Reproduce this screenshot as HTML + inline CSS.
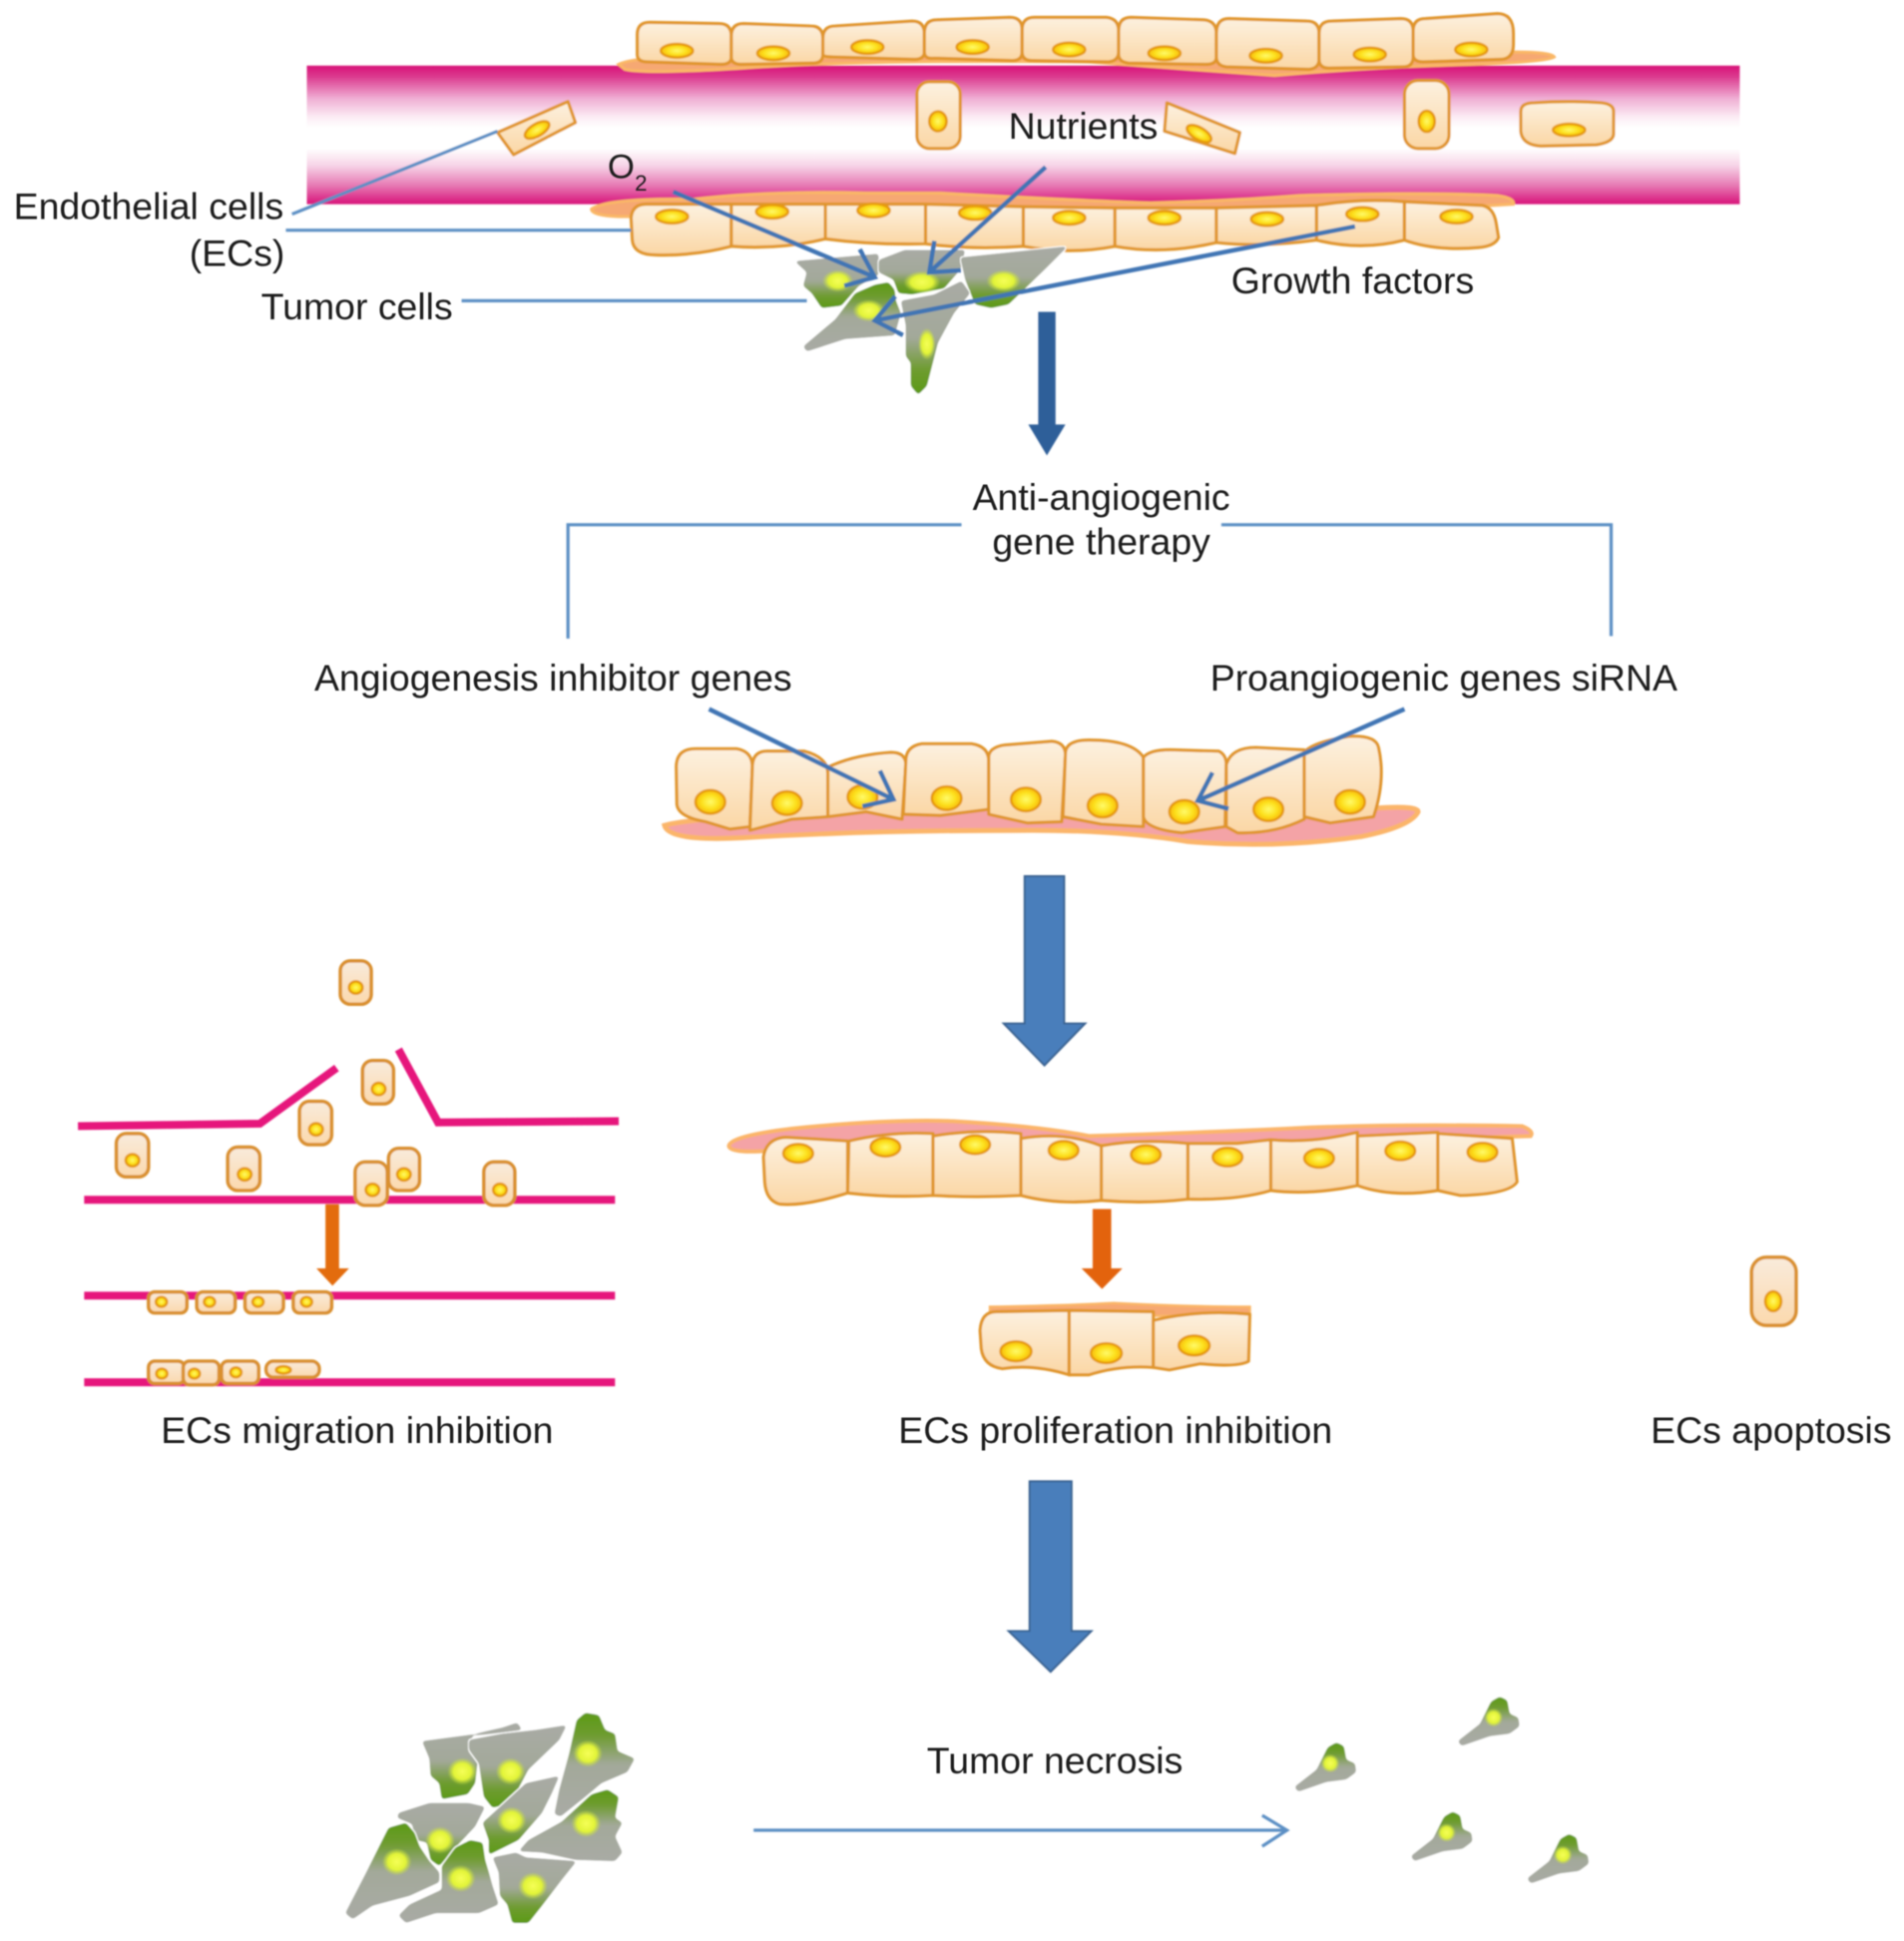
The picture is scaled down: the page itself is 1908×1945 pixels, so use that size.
<!DOCTYPE html>
<html><head><meta charset="utf-8"><style>
html,body{margin:0;padding:0;background:#fff;width:1908px;height:1945px;overflow:hidden}
svg{display:block}
text{font-family:"Liberation Sans",sans-serif;font-size:30.2px;fill:#1c1c1c}
.c{fill:url(#cg);stroke:#e0952c;stroke-width:2.5;stroke-linejoin:round}
.s{fill:url(#cs);stroke:#d98f2e;stroke-width:2.8}
.m{fill:#f6a873;stroke:#fab766;stroke-width:2.5}
.n{fill:url(#ng);stroke:#e59a10;stroke-width:2}
.l{fill:none;stroke:#5b8fc4;stroke-width:2.6}
.a{fill:none;stroke:#3f74b4;stroke-width:3.6}
.p{fill:none;stroke:#e6127c;stroke-width:6.4}
.tu{fill:url(#tu);filter:url(#goo)}
.td{fill:url(#td);filter:url(#goo)}
.g{fill:url(#gl)}
</style></head><body>
<svg xmlns="http://www.w3.org/2000/svg" width="1908" height="1945" viewBox="0 0 1538.7 1568.5">
<defs>
<linearGradient id="v" x1="0" y1="0" x2="0" y2="1">
<stop offset="0" stop-color="#d8137a"/><stop offset=".08" stop-color="#dc3a8f"/><stop offset=".24" stop-color="#f0b0d5"/><stop offset=".38" stop-color="#fdf0f7"/><stop offset=".45" stop-color="#fff"/><stop offset=".6" stop-color="#fff"/><stop offset=".72" stop-color="#f7d5e8"/><stop offset=".86" stop-color="#e77db6"/><stop offset="1" stop-color="#d8137a"/>
</linearGradient>
<linearGradient id="cg" x1="0" y1="0" x2="0" y2="1"><stop offset="0" stop-color="#fdf1e0"/><stop offset="1" stop-color="#fbd7a5"/></linearGradient>
<linearGradient id="cs" x1="0" y1="0" x2="0" y2="1"><stop offset="0" stop-color="#f9ebdc"/><stop offset="1" stop-color="#fbd9ad"/></linearGradient>
<radialGradient id="ng"><stop offset="0" stop-color="#fffb6a"/><stop offset=".6" stop-color="#fde01c"/><stop offset="1" stop-color="#f8b90e"/></radialGradient>
<linearGradient id="tu" x1="0" y1="0" x2="0" y2="1"><stop offset="0" stop-color="#5c9a16"/><stop offset=".22" stop-color="#6e9c30"/><stop offset=".5" stop-color="#a3a99a"/><stop offset="1" stop-color="#a9aba5"/></linearGradient>
<linearGradient id="td" x1="0" y1="0" x2="0" y2="1"><stop offset="0" stop-color="#a9aba5"/><stop offset=".5" stop-color="#a3a99a"/><stop offset=".78" stop-color="#6e9c30"/><stop offset="1" stop-color="#5c9a16"/></linearGradient>
<radialGradient id="gl"><stop offset="0" stop-color="#f6ff58"/><stop offset=".6" stop-color="#e2f438"/><stop offset="1" stop-color="#c8e43a" stop-opacity="0"/></radialGradient>
<marker id="h" markerUnits="userSpaceOnUse" markerWidth="34" markerHeight="40" refX="26" refY="20" orient="auto"><path d="M6,4 L26,20 L6,36" fill="none" stroke="#3f74b4" stroke-width="3.6"/></marker>
<filter id="b" x="-2%" y="-2%" width="104%" height="104%"><feGaussianBlur stdDeviation=".7"/></filter>
<filter id="bt" x="-5%" y="-20%" width="110%" height="140%"><feGaussianBlur stdDeviation=".35"/></filter>
<filter id="goo" x="-20%" y="-20%" width="140%" height="140%" color-interpolation-filters="sRGB">
<feGaussianBlur in="SourceGraphic" stdDeviation="1.3" result="bl"/>
<feColorMatrix in="bl" type="matrix" values="1 0 0 0 0 0 1 0 0 0 0 0 1 0 0 0 0 0 10 -4.5" result="gg"/>
<feMorphology in="gg" operator="dilate" radius="1" result="di"/>
<feFlood flood-color="#fff"/>
<feComposite in2="di" operator="in" result="wh"/>
<feMerge><feMergeNode in="wh"/><feMergeNode in="gg"/></feMerge>
</filter>
<g id="sm">
<path class="tu" d="M0,0 L6,3 L8,14 L15,17 L16,24 L8,30 L-8,32 L-31,40 L-34,36 L-16,22 L-7,4Z"/>
<ellipse class="g" cx="-5" cy="17" rx="7.5" ry="7.5"/>
</g>
</defs>
<g filter="url(#b)">
<rect x="248" y="53" width="1158" height="112" fill="url(#v)"/>

<!-- top row -->
<path class="m" d="M500,52 Q515,44 600,47 Q700,46 900,44 L1225,42 Q1254,42 1256,46 Q1250,50 1190,52 Q1110,54 1030,61 Q960,56 880,50 Q700,48 600,55 Q520,60 505,56Z"/>
<path class="c" d="M515,28 Q515,18 525,18 L581,19 Q591,19 591,29 L591,46 Q591,52 583,52 L523,50 Q515,50 515,44Z"/>
<path class="c" d="M591,29 Q591,19 601,19 L655,21 Q665,21 665,31 L665,44 Q665,51 657,51 L599,52 Q591,52 591,46Z"/>
<path class="c" d="M665,31 Q665,21 675,21 L737,17 Q747,17 747,27 L747,42 Q747,48 739,48 L673,46 Q665,46 665,44Z"/>
<path class="c" d="M747,27 Q747,16 757,16 L816,14 Q826,14 826,24 L826,42 Q826,49 818,49 L755,47 Q747,48 747,42Z"/>
<path class="c" d="M826,24 Q826,14 836,14 L894,14 Q904,15 904,25 L904,42 Q904,49 896,50 L834,49 Q826,49 826,42Z"/>
<path class="c" d="M904,25 Q904,14 914,14 L973,16 Q983,17 983,27 L983,46 Q983,52 975,52 L912,51 Q904,50 904,44Z"/>
<path class="c" d="M983,27 Q983,15 993,15 L1056,17 Q1066,17 1066,27 L1066,48 Q1066,55 1058,56 L991,54 Q983,53 983,46Z"/>
<path class="c" d="M1066,27 Q1066,17 1076,17 L1132,15 Q1142,15 1142,25 L1142,46 Q1142,54 1134,54 L1074,55 Q1066,55 1066,48Z"/>
<path class="c" d="M1142,25 Q1142,15 1152,15 L1210,11 Q1223,11 1223,27 L1223,36 Q1223,48 1212,48 L1150,50 Q1142,50 1142,44Z"/>
<ellipse class="n" cx="547" cy="41" rx="13" ry="5.5"/><ellipse class="n" cx="625" cy="43" rx="13" ry="5.5"/><ellipse class="n" cx="701" cy="38" rx="13" ry="5.5"/><ellipse class="n" cx="786" cy="38" rx="13" ry="5.5"/><ellipse class="n" cx="864" cy="40" rx="13" ry="5.5"/><ellipse class="n" cx="941" cy="43" rx="13" ry="5.5"/><ellipse class="n" cx="1023" cy="45" rx="13" ry="5.5"/><ellipse class="n" cx="1107" cy="44" rx="13" ry="5.5"/><ellipse class="n" cx="1189" cy="40" rx="13" ry="5.5"/>

<!-- floating in vessel -->
<path class="c" d="M402,107 L459,82 L465,99 L415,125Z"/><ellipse class="n" cx="434" cy="105" rx="11" ry="5" transform="rotate(-30 434 105)"/>
<rect class="c" x="741" y="66" width="35" height="54" rx="10"/><ellipse class="n" cx="758" cy="98" rx="7" ry="8"/>
<path class="c" d="M943,83 L1002,107 L998,124 L941,106Z"/><ellipse class="n" cx="969" cy="108" rx="11" ry="5" transform="rotate(30 969 108)"/>
<rect class="c" x="1135" y="65" width="36" height="55" rx="11"/><ellipse class="n" cx="1153" cy="98" rx="6.5" ry="8.5"/>
<path class="c" d="M1229,90 Q1229,83 1240,83 Q1267,81 1294,83 Q1304,84 1304,90 L1304,108 Q1304,115 1290,117 L1245,118 Q1230,117 1229,106Z"/><ellipse class="n" cx="1268" cy="105" rx="13" ry="5"/>

<!-- lower row -->
<path class="m" d="M478,169 Q490,160 560,161 Q620,154 700,156 L760,156 Q870,162 930,164 Q1000,162 1050,158 Q1150,155 1210,158 Q1224,160 1223,165 L1100,172 L500,175 Q478,174 478,169Z"/>
<path class="c" d="M510,176 Q511,165 522,165 L591,165 L591,199 Q560,207 530,206 Q512,206 511,194Z"/>
<path class="c" d="M591,165 L667,165 L667,193 Q630,202 591,199Z"/>
<path class="c" d="M667,165 L748,165 L748,197 Q705,198 667,193Z"/>
<path class="c" d="M748,165 L827,167 L827,199 Q785,202 748,197Z"/>
<path class="c" d="M827,167 L901,168 L901,199 Q865,206 827,199Z"/>
<path class="c" d="M901,168 L983,168 L983,196 Q940,206 901,199Z"/>
<path class="c" d="M983,168 L1064,166 L1064,194 Q1020,200 983,196Z"/>
<path class="c" d="M1064,166 Q1100,160 1135,163 L1135,194 Q1100,203 1064,194Z"/>
<path class="c" d="M1135,163 L1198,166 Q1207,168 1209,180 L1211,192 Q1208,199 1195,200 Q1160,203 1135,194Z"/>
<ellipse class="n" cx="543" cy="175" rx="13" ry="5.5"/><ellipse class="n" cx="624" cy="171" rx="13" ry="5.5"/><ellipse class="n" cx="706" cy="170" rx="13" ry="5.5"/><ellipse class="n" cx="788" cy="172" rx="13" ry="5.5"/><ellipse class="n" cx="864" cy="176" rx="13" ry="5.5"/><ellipse class="n" cx="941" cy="176" rx="13" ry="5.5"/><ellipse class="n" cx="1024" cy="177" rx="13" ry="5.5"/><ellipse class="n" cx="1101" cy="173" rx="13" ry="5.5"/><ellipse class="n" cx="1177" cy="175" rx="13" ry="5.5"/>

<!-- tumor top -->
<path class="td" d="M642,211 L710,205 L710,222 L694,231 L680,247 L664,249 L656,237 L649,231 L652,220Z"/>
<path class="td" d="M710,210 L731,202 L780,202 L776,218 L763,233 L737,238 L726,237 L722,226 L710,220Z"/>
<path class="td" d="M776,208 L863,199 L844,218 L815,246 L801,249 L788,246 L780,226Z"/>
<path class="tu" d="M707,230 L718,228 L723,234 L724,243 L728,253 L723,271 L683,274 L652,284 L649,280 L675,258 L691,237Z"/>
<path class="td" d="M728,243 L755,238 L777,227 L784,237 L771,253 L758,277 L749,312 L742,319 L736,312 L736,293 L732,288 L732,263Z"/>
<ellipse class="g" cx="677" cy="227" rx="12.5" ry="9"/><ellipse class="g" cx="745" cy="228" rx="15" ry="9"/><ellipse class="g" cx="811" cy="227" rx="14" ry="9"/><ellipse class="g" cx="702" cy="251" rx="13" ry="9"/><ellipse class="g" cx="749" cy="278" rx="7" ry="13"/>

<!-- arrows over top -->
<line class="l" x1="236" y1="173" x2="402" y2="106"/>
<line class="l" x1="231" y1="186" x2="510" y2="186"/>
<line class="l" x1="373" y1="243" x2="652" y2="243"/>
<line class="a" x1="544" y1="155" x2="707" y2="224" marker-end="url(#h)"/>
<line class="a" x1="845" y1="135" x2="751" y2="220" marker-end="url(#h)"/>
<line class="a" x1="1095" y1="183" x2="707" y2="259" marker-end="url(#h)"/>

<path d="M839,252 H853 V343 H861 L846,368 L831,343 H839Z" fill="#2f5f99"/>

<path class="l" d="M459,516 V424 H777"/>
<path class="l" d="M987,424 H1302 V514"/>

<!-- middle row -->
<path d="M537,667 Q560,660 700,655 Q900,650 1100,654 Q1146,650 1146,656 Q1140,668 1100,676 Q1030,686 960,680 Q900,670 820,671 Q700,671 600,677 Q540,680 537,667Z" fill="#f4a3a6" stroke="#fbb56a" stroke-width="4"/>
<path class="c" d="M546.5,620 Q546.5,605 562,605 L595,605 Q608,607 608,620 L606,668 L590,670 L570,664 Q548,660 547,650Z"/>
<path class="c" d="M608,620 Q608,607 620,607 L650,607 Q669,612 669,625 L669,660 L640,662 L606,671Z"/>
<path class="c" d="M669,620 Q690,610 720,608 Q732,608 732,618 L729,662 L700,656 L669,660Z"/>
<path class="c" d="M732,615 Q732,603 745,601 L785,601 Q799,603 799,615 L799,654 L760,659 L730,658Z"/>
<path class="c" d="M799,612 Q799,604 812,602 L850,599 Q861,600 861,610 L858,664 L830,665 L799,658Z"/>
<path class="c" d="M861,608 Q862,598 880,598 Q915,598 924,612 L924,668 L890,666 L859,660Z"/>
<path class="c" d="M924,612 Q930,605 950,606 L985,607 Q991,610 991,618 L990,668 L955,673 Q926,670 924,660Z"/>
<path class="c" d="M991,618 Q995,604 1015,604 L1054,606 L1054,662 Q1030,674 1000,673 L991,668Z"/>
<path class="c" d="M1054,608 Q1060,600 1090,595 Q1112,594 1114,604 Q1120,630 1110,660 L1075,665 L1054,660Z"/>
<ellipse class="n" cx="574" cy="648" rx="12" ry="9.5" stroke-width="2.4"/><ellipse class="n" cx="636" cy="649" rx="12" ry="9.5" stroke-width="2.4"/><ellipse class="n" cx="697" cy="644" rx="12" ry="9.5" stroke-width="2.4"/><ellipse class="n" cx="765" cy="645" rx="12" ry="9.5" stroke-width="2.4"/><ellipse class="n" cx="829" cy="646" rx="12" ry="9.5" stroke-width="2.4"/><ellipse class="n" cx="891" cy="651" rx="12" ry="9.5" stroke-width="2.4"/><ellipse class="n" cx="957" cy="656" rx="12" ry="9.5" stroke-width="2.4"/><ellipse class="n" cx="1025" cy="654" rx="12" ry="9.5" stroke-width="2.4"/><ellipse class="n" cx="1091" cy="648" rx="12" ry="9.5" stroke-width="2.4"/>
<line class="a" x1="573" y1="573" x2="722" y2="646" marker-end="url(#h)"/>
<line class="a" x1="1135" y1="573" x2="968" y2="647" marker-end="url(#h)"/>

<path d="M828,708 H860 V827 H877 L844,861 L811,827 H828Z" fill="#4a7ebb" stroke="#38618f" stroke-width="1.5"/>

<!-- left panel -->
<path class="p" d="M63,910 L210,908 L272,863"/>
<path class="p" d="M322,848 L354,907 L500,906"/>
<line class="p" x1="68" y1="969.5" x2="497" y2="969.5"/>
<line class="p" x1="68" y1="1047" x2="497" y2="1047"/>
<line class="p" x1="68" y1="1117" x2="497" y2="1117"/>
<rect class="s" x="275" y="776.5" width="25" height="35" rx="8"/><ellipse class="n" cx="287.5" cy="798" rx="5.5" ry="5"/>
<rect class="s" x="293" y="857" width="25" height="35" rx="8"/><ellipse class="n" cx="306" cy="880" rx="5.5" ry="5"/>
<rect class="s" x="242" y="890" width="26" height="35" rx="8"/><ellipse class="n" cx="255.4" cy="912.6" rx="5.5" ry="5"/>
<rect class="s" x="94" y="916" width="26" height="35" rx="8"/><ellipse class="n" cx="107" cy="937.6" rx="5.5" ry="5"/>
<rect class="s" x="184" y="927" width="26" height="35" rx="8"/><ellipse class="n" cx="197.7" cy="949" rx="5.5" ry="5"/>
<rect class="s" x="287" y="939" width="26" height="35" rx="8"/><ellipse class="n" cx="301" cy="961.5" rx="5.5" ry="5"/>
<rect class="s" x="314" y="928" width="25" height="34" rx="8"/><ellipse class="n" cx="326.4" cy="949" rx="5.5" ry="5"/>
<rect class="s" x="391" y="939" width="25" height="35" rx="8"/><ellipse class="n" cx="404" cy="961.5" rx="5.5" ry="5"/>
<path d="M263,973 H274 V1025 H282 L268.7,1039 L255.7,1025 H263Z" fill="#e36c0a"/>
<rect class="s" x="120" y="1044" width="31" height="17" rx="5"/><ellipse class="n" cx="130.4" cy="1052" rx="4.5" ry="4"/>
<rect class="s" x="159" y="1044" width="31" height="17" rx="5"/><ellipse class="n" cx="169.3" cy="1052" rx="4.5" ry="4"/>
<rect class="s" x="198" y="1044" width="31" height="17" rx="5"/><ellipse class="n" cx="208.5" cy="1052" rx="4.5" ry="4"/>
<rect class="s" x="237" y="1044" width="31" height="17" rx="5"/><ellipse class="n" cx="247.7" cy="1052" rx="4.5" ry="4"/>
<rect class="s" x="120" y="1100" width="29" height="18" rx="5"/><ellipse class="n" cx="130.7" cy="1110" rx="4.5" ry="4"/>
<rect class="s" x="148" y="1100" width="29" height="19" rx="5"/><ellipse class="n" cx="157" cy="1110" rx="4.5" ry="4"/>
<rect class="s" x="179" y="1100" width="30" height="18" rx="5"/><ellipse class="n" cx="190.6" cy="1109" rx="4.5" ry="4"/>
<rect class="s" x="215" y="1100" width="43" height="13" rx="6"/><ellipse class="n" cx="229" cy="1107" rx="6" ry="3"/>

<!-- center row -->
<path d="M589,926 Q590,918 640,912 Q720,904 770,906 Q840,910 880,918 Q950,916 1040,912 Q1120,908 1230,910 Q1240,914 1237,918 L1100,922 L620,930 Q590,932 589,926Z" fill="#f4a3a6" stroke="#fbb56a" stroke-width="3.2"/>
<path class="c" d="M617,935 Q619,920 635,919 L685,922 L685,964 Q650,975 630,973 Q619,970 618,955Z"/>
<path class="c" d="M686,922 Q720,914 754,916 L754,966 Q720,968 685,964Z"/>
<path class="c" d="M754,918 Q790,912 825,916 L825,966 Q790,968 754,966Z"/>
<path class="c" d="M825,920 Q860,914 890,926 L890,970 Q855,974 825,966Z"/>
<path class="c" d="M890,926 Q920,920 960,924 L960,969 Q925,973 890,970Z"/>
<path class="c" d="M960,924 L1000,924 L1027,921 L1027,962 Q1000,970 960,969Z"/>
<path class="c" d="M1027,921 Q1060,924 1097,915 L1097,958 Q1060,966 1027,962Z"/>
<path class="c" d="M1097,918 L1162,915 L1162,962 Q1125,968 1097,958Z"/>
<path class="c" d="M1162,916 L1222,920 L1226,955 Q1220,965 1180,966 L1162,962Z"/>
<ellipse class="n" cx="645" cy="932" rx="12" ry="7.5"/><ellipse class="n" cx="715.5" cy="927" rx="12" ry="7.5"/><ellipse class="n" cx="788" cy="925" rx="12" ry="7.5"/><ellipse class="n" cx="859.5" cy="929.5" rx="12" ry="7.5"/><ellipse class="n" cx="926" cy="933" rx="12" ry="7.5"/><ellipse class="n" cx="992" cy="935" rx="12" ry="7.5"/><ellipse class="n" cx="1066" cy="936" rx="12" ry="7.5"/><ellipse class="n" cx="1131.6" cy="930" rx="12" ry="7.5"/><ellipse class="n" cx="1198" cy="931" rx="12" ry="7.5"/>
<path d="M883,977 H898 V1025 H907 L890.6,1041.6 L874,1025 H883Z" fill="#e3640f"/>

<path d="M800,1056 Q860,1055 900,1053 Q960,1056 1010,1056 L1010,1064 L800,1062Z" fill="#f6a873" stroke="#fab566" stroke-width="2"/>
<path class="c" d="M792,1075 Q793,1060 805,1060 L864,1059 L864,1111 Q835,1102 810,1106 Q795,1104 793,1090Z"/>
<path class="c" d="M864,1059 L932,1060 L932,1105 Q905,1103 880,1111 L864,1111Z"/>
<path class="c" d="M932,1067 Q970,1058 1010,1062 L1009,1100 Q1000,1105 970,1102 L945,1107 L932,1105Z"/>
<ellipse class="n" cx="821" cy="1092" rx="12.5" ry="8" stroke-width="2.4"/><ellipse class="n" cx="894" cy="1093.5" rx="12.5" ry="8" stroke-width="2.4"/><ellipse class="n" cx="965" cy="1087.3" rx="12.5" ry="8" stroke-width="2.4"/>

<rect class="s" x="1415.5" y="1016" width="36" height="55" rx="12"/><ellipse class="n" cx="1433" cy="1051.5" rx="6.5" ry="8"/>

<path d="M832,1197 H866 V1318 H882 L849,1351 L815,1318 H832Z" fill="#4a7ebb" stroke="#38618f" stroke-width="1.5"/>

<!-- bottom tumor -->
<path class="td" d="M341,1407 L379,1402 L406,1396 L418,1392 L422,1398 L382,1403 L378,1410 L386,1423 L384,1441 L378,1450 L357,1454 L355,1441 L348,1435 L347,1421Z"/>
<path class="td" d="M379,1406 L406,1401 L433,1398 L458,1394 L452,1406 L427,1430 L417,1449 L409,1458 L398,1461 L391,1452 L387,1425 L379,1414Z"/>
<path class="tu" d="M473,1384 L484,1386 L489,1398 L497,1401 L499,1415 L513,1421 L507,1432 L486,1441 L473,1452 L453,1468 L448,1466 L452,1446 L460,1417 L466,1390Z"/>
<path class="tu" d="M491,1446 L500,1452 L497,1469 L503,1473 L497,1484 L503,1497 L497,1504 L465,1503 L438,1497 L419,1496 L427,1487 L454,1472 L478,1450Z"/>
<path class="td" d="M452,1435 L446,1449 L438,1465 L419,1487 L395,1499 L395,1487 L390,1473 L425,1441Z"/>
<path class="td" d="M322,1465 L347,1457 L379,1457 L392,1460 L384,1476 L366,1495 L355,1508 L348,1503 L345,1489 L336,1487 L333,1474 L321,1469Z"/>
<path class="tu" d="M314,1477 L328,1473 L335,1481 L339,1492 L347,1504 L355,1513 L355,1521 L331,1532 L301,1540 L285,1551 L279,1546 L296,1513 L309,1487Z"/>
<path class="tu" d="M380,1487 L390,1489 L392,1503 L395,1513 L398,1524 L403,1539 L387,1546 L352,1546 L328,1554 L322,1548 L331,1539 L357,1527 L357,1508 L368,1493Z"/>
<path class="td" d="M398,1501 L417,1497 L425,1501 L466,1504 L454,1519 L438,1540 L427,1554 L414,1554 L410,1539 L404,1532 L403,1513Z"/>
<ellipse class="g" cx="373.6" cy="1431.5" rx="12" ry="11"/><ellipse class="g" cx="412.6" cy="1431.5" rx="12" ry="11"/><ellipse class="g" cx="475" cy="1417" rx="12" ry="11"/><ellipse class="g" cx="473.6" cy="1473.7" rx="12" ry="11"/><ellipse class="g" cx="413.4" cy="1471" rx="12" ry="11"/><ellipse class="g" cx="355.6" cy="1487" rx="12" ry="11"/><ellipse class="g" cx="320.7" cy="1504.6" rx="12" ry="11"/><ellipse class="g" cx="372.3" cy="1518" rx="12" ry="11"/><ellipse class="g" cx="430.6" cy="1524" rx="12" ry="11"/>

<line class="l" x1="609" y1="1479" x2="1038" y2="1479"/>
<path class="l" d="M1020,1467 L1040,1479 L1020,1492"/>

<use href="#sm" x="1212" y="1371"/>
<use href="#sm" x="1080" y="1408"/>
<use href="#sm" x="1174" y="1464"/>
<use href="#sm" x="1268" y="1482"/>
</g>

<g filter="url(#bt)">
<text x="11" y="177">Endothelial cells</text>
<text x="153" y="215">(ECs)</text>
<text x="211" y="258">Tumor cells</text>
<text x="491" y="144" style="font-size:28px">O</text>
<text x="513" y="154" style="font-size:18px">2</text>
<text x="815" y="112">Nutrients</text>
<text x="995" y="237">Growth factors</text>
<text x="890" y="412" text-anchor="middle">Anti-angiogenic</text>
<text x="890" y="448" text-anchor="middle">gene therapy</text>
<text x="254" y="558">Angiogenesis inhibitor genes</text>
<text x="978" y="558">Proangiogenic genes siRNA</text>
<text x="130" y="1166">ECs migration inhibition</text>
<text x="726" y="1166">ECs proliferation inhibition</text>
<text x="1334" y="1166">ECs apoptosis</text>
<text x="749" y="1433">Tumor necrosis</text>
</g>
</svg>
</body></html>
